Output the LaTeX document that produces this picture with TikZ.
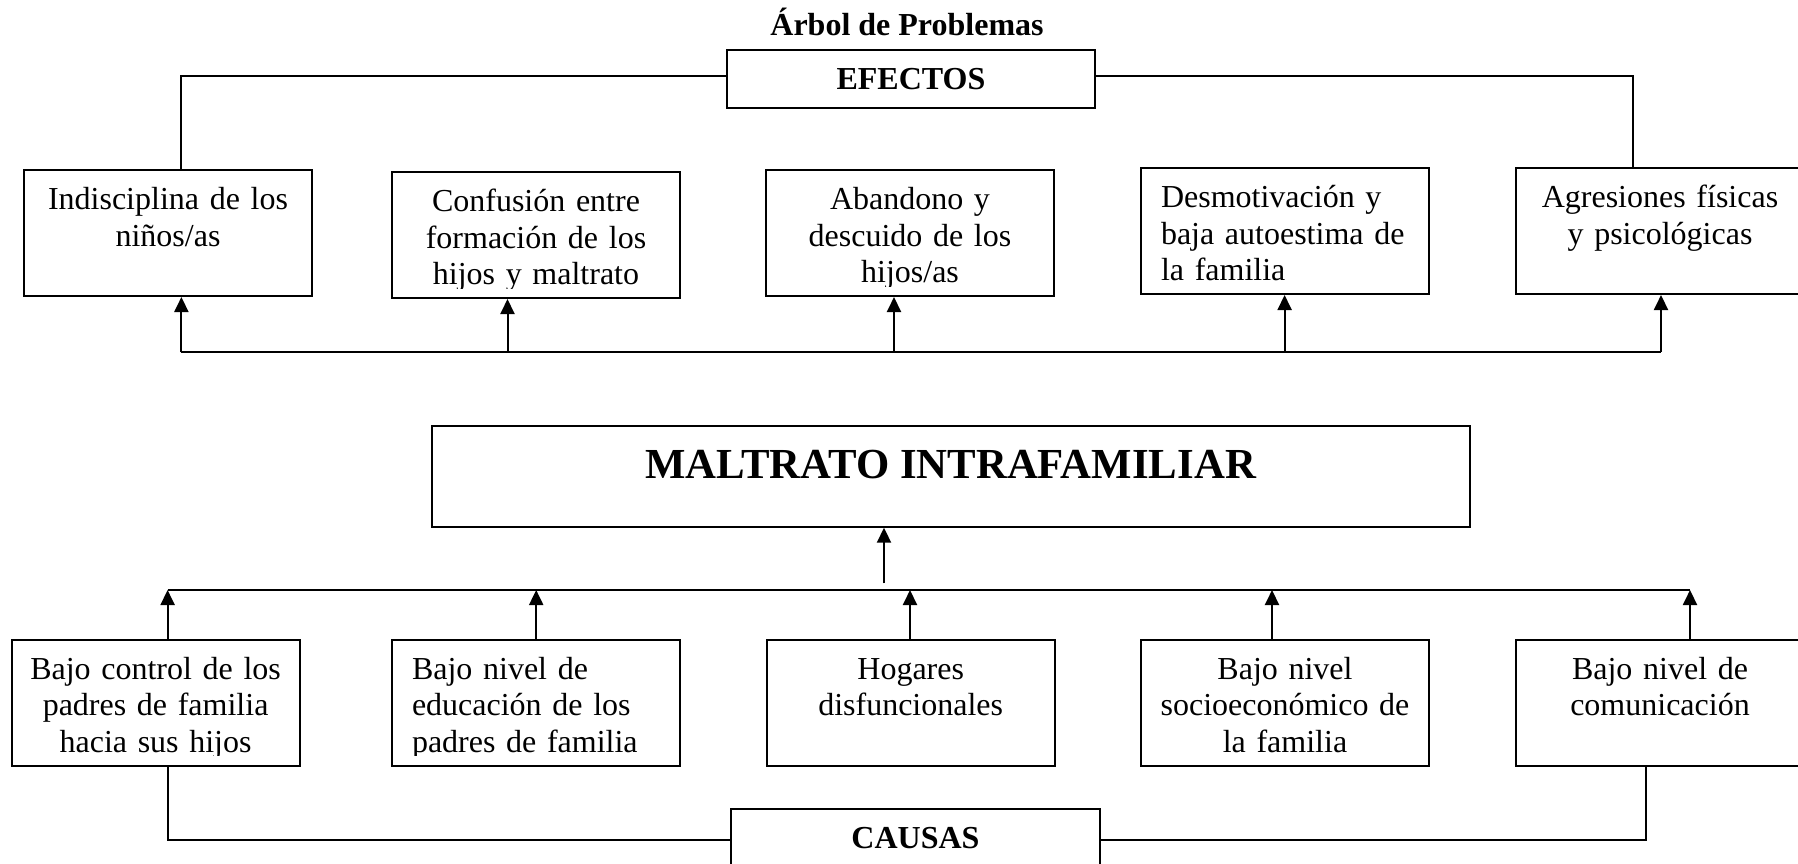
\documentclass[tikz,border=0pt]{standalone}
\usepackage{fontspec}
\setmainfont{Liberation Serif}
\usetikzlibrary{positioning}
\usetikzlibrary{arrows.meta}

\begin{document}
\begin{tikzpicture}[x=0.5pt,y=-0.5pt]
% definición de los parámetros
\tikzstyle cajaarbol=[draw,line width=1pt,minimum width=144pt,minimum height=63pt,inner sep=0pt]
\tikzstyle titulocaja=[draw,line width=1pt,minimum width=184.2pt,minimum height=29.2pt,inner sep=0pt,font=\fontsize{16}{18.35}\selectfont\bfseries]
\tikzstyle problemacaja=[draw,line width=1pt,minimum width=518.9pt,minimum height=50.35pt,inner sep=0pt,text depth=11.6pt,font=\fontsize{21.4}{24}\selectfont\bfseries]
\tikzstyle textoarbol=[anchor=north,inner sep=0pt,text width=136pt,font=\fontsize{16}{18.35}\selectfont]
\tikzstyle lineaarbol=[line width=1pt]
\tikzstyle flechaarbol=[line width=1pt,-{Triangle[length=7.5pt,width=7pt]}]
\newcommand{\escribe}[4][0pt]{% desplazamiento, caja, alineación, texto
  \begin{scope}
  \clip ([yshift=5.5pt]#2.south west) rectangle (#2.north east);
  \node[textoarbol,align=#3,xshift=#1] (t#2) at (#2.north) {\rule{0pt}{20pt}#4};
  \end{scope}}
\useasboundingbox (0,0) rectangle (1798,863);
% el título
\node[font=\fontsize{16}{18.35}\selectfont\bfseries,anchor=base] (titulo) at (907,35.5) {Árbol de Problemas};
% los efectos
\node[titulocaja] (efectos) at (910.9,79.2) {EFECTOS};
\foreach \n/\x/\y in {ef1/168/233,ef2/536/235,ef3/910/233,ef4/1285/231,ef5/1660/231}
    \node[cajaarbol] (\n) at (\x,\y) {};
\escribe{ef1}{center}{Indisciplina de los\\niños/as}
\escribe{ef2}{center}{Confusión entre\\formación de los\\hijos y maltrato}
\escribe{ef3}{center}{Abandono y\\descuido de los\\hijos/as}
\escribe[6pt]{ef4}{left}{Desmotivación y\\baja autoestima de\\la familia}
\escribe{ef5}{center}{Agresiones físicas\\y psicológicas}
\draw[lineaarbol] ([yshift=1.75pt]efectos.west) -| ([xshift=6.7pt]ef1.north);
\draw[lineaarbol] ([yshift=1.75pt]efectos.east) -| ([xshift=-13.75pt]ef5.north);
% las flechas hacia los efectos
\foreach \i/\x in {1/181.4,2/507.5,3/894,4/1284.6,5/1661}
    \coordinate (e\i) at (\x,352.3);
\draw[lineaarbol] (e1) -- (e5);
\foreach \i in {1,...,5}
    \draw[flechaarbol] (e\i) -- (e\i |- ef\i.south);
% el problema
\node[problemacaja] (maltrato) at (950.6,476.35) {MALTRATO INTRAFAMILIAR};
\coordinate (m0) at (884,583.3);
\draw[flechaarbol] (m0) -- (m0 |- maltrato.south);
% las causas
\foreach \n/\x in {ca1/155.6,ca2/536,ca3/910.7,ca4/1285,ca5/1660}
    \node[cajaarbol] (\n) at (\x,702.7) {};
\escribe{ca1}{center}{Bajo control de los\\padres de familia\\hacia sus hijos}
\escribe[6pt]{ca2}{left}{Bajo nivel de\\educación de los\\padres de familia}
\escribe{ca3}{center}{Hogares\\disfuncionales}
\escribe{ca4}{center}{Bajo nivel\\socioeconómico de\\la familia}
\escribe{ca5}{center}{Bajo nivel de\\comunicación}
\foreach \i/\x in {1/167.6,2/536.2,3/910,4/1272,5/1690}
    \coordinate (c\i) at (\x,590);
\draw[lineaarbol] (c1) -- (c5);
\foreach \i in {1,...,5}
    \draw[flechaarbol] (c\i |- ca\i.north) -- (c\i);
\node[titulocaja] (causas) at (915.5,838.5) {CAUSAS};
\draw[lineaarbol] ([yshift=-0.75pt]causas.west) -| ([xshift=6pt]ca1.south);
\draw[lineaarbol] ([yshift=-0.75pt]causas.east) -| ([xshift=-6.85pt]ca5.south);
\end{tikzpicture}
\end{document}
